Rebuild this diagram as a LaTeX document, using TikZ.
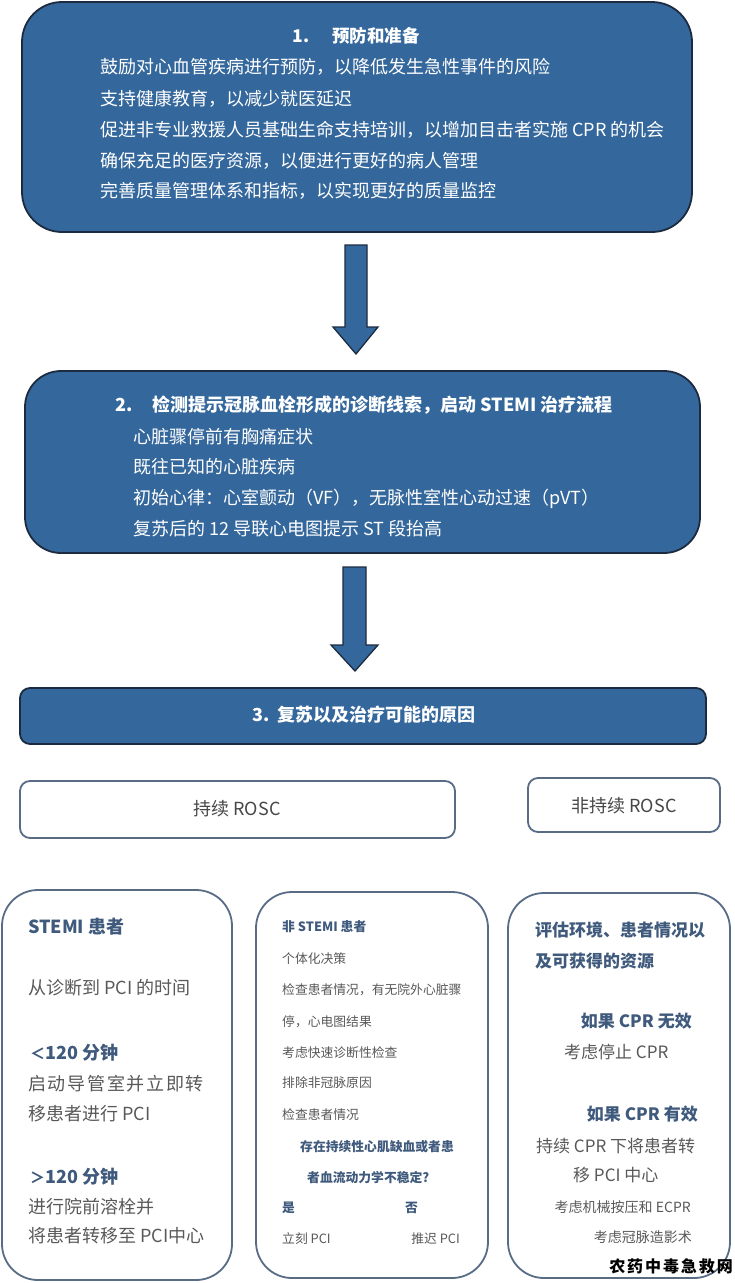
\documentclass[tikz,border=0pt]{standalone}
\usepackage{fontspec}
\setmainfont{Noto Sans CJK SC}
\definecolor{boxblue}{RGB}{52,103,155}
\definecolor{navy}{RGB}{28,43,63}
\definecolor{rimgray}{RGB}{88,108,134}
\definecolor{txtgray}{RGB}{89,89,89}
\definecolor{headblue}{RGB}{63,90,124}
\tikzset{
  bluebox/.style={draw=navy, line width=1.8pt, fill=boxblue},
  whitebox/.style={draw=rimgray, line width=1.8pt, fill=white},
  blockarrow/.style={draw=navy, line width=1.3pt, fill=boxblue, line join=miter},
  tw/.style={inner sep=0pt, text=white, font=\fontsize{18}{22}\selectfont, yshift=-6.4pt},
  tg/.style={inner sep=0pt, text=txtgray, font=\fontsize{18}{22}\selectfont, yshift=-6.4pt},
  tgb/.style={inner sep=0pt, text=headblue, font=\fontsize{18}{22}\selectfont\bfseries, yshift=-6.4pt},
  sg/.style={inner sep=0pt, text=txtgray, font=\fontsize{12.8}{15}\selectfont, yshift=-4.6pt},
  sgb/.style={inner sep=0pt, text=headblue, font=\fontsize{12.8}{15}\selectfont\bfseries, yshift=-4.6pt},
  rg/.style={inner sep=0pt, text=txtgray, font=\fontsize{17}{21}\selectfont, yshift=-6.1pt},
  rgb/.style={inner sep=0pt, text=headblue, font=\fontsize{17}{21}\selectfont\bfseries, yshift=-6.1pt},
  rs/.style={inner sep=0pt, text=txtgray, font=\fontsize{14}{17}\selectfont, yshift=-5pt},
}
\begin{document}
\begin{tikzpicture}[x=1pt,y=-1pt]
\useasboundingbox[fill=white] (0,0) rectangle (735,1283);

% ---- Box 1
\node[bluebox, rounded corners=40pt, minimum width=670pt, minimum height=230pt] (b1) at (357,117) {};
\node[tw, anchor=base, font=\fontsize{17.5}{22}\selectfont\bfseries] (b1t) at (356,36) {1.\hspace{1.3em}预防和准备};
\node[tw, anchor=base west] (b1a) at (100,67) {鼓励对心血管疾病进行预防，以降低发生急性事件的风险};
\node[tw, anchor=base west] (b1b) at (100,99) {支持健康教育，以减少就医延迟};
\node[tw, anchor=base west] (b1c) at (100,130) {促进非专业救援人员基础生命支持培训，以增加目击者实施 CPR 的机会};
\node[tw, anchor=base west] (b1d) at (100,161) {确保充足的医疗资源，以便进行更好的病人管理};
\node[tw, anchor=base west] (b1e) at (100,191) {完善质量管理体系和指标，以实现更好的质量监控};

% ---- Arrow 1
\draw[blockarrow] (345,245) -- (367,245) -- (367,327) -- (378,327) -- (356,354) -- (333,327) -- (345,327) -- cycle;

% ---- Box 2
\node[bluebox, rounded corners=36pt, minimum width=675pt, minimum height=182pt] (b2) at (362.5,462) {};
\node[tw, anchor=base west, font=\fontsize{18}{22}\selectfont\bfseries] (b2t) at (115,405) {2.\hspace{1.1em}检测提示冠脉血栓形成的诊断线索，启动 STEMI 治疗流程};
\node[tw, anchor=base west] (b2a) at (133,437) {心脏骤停前有胸痛症状};
\node[tw, anchor=base west] (b2b) at (133,467) {既往已知的心脏疾病};
\node[tw, anchor=base west] (b2c) at (133,498) {初始心律：心室颤动（VF），无脉性室性心动过速（pVT）};
\node[tw, anchor=base west] (b2d) at (133,529) {复苏后的 12 导联心电图提示 ST 段抬高};

% ---- Arrow 2
\draw[blockarrow] (343,567) -- (366,567) -- (366,645) -- (378,645) -- (355,671) -- (331,645) -- (343,645) -- cycle;

% ---- Box 3
\node[bluebox, rounded corners=10pt, minimum width=686pt, minimum height=56pt] (b3) at (363,716) {};
\node[tw, anchor=base, font=\fontsize{18}{22}\selectfont\bfseries] (b3t) at (364,715) {3.\hspace{0.4em}复苏以及治疗可能的原因};

% ---- ROSC boxes
\node[whitebox, rounded corners=10pt, minimum width=435pt, minimum height=57pt] (ra) at (237.5,809.5) {};
\node[tg, anchor=base, text=black!72] (rat) at (237,809) {持续 ROSC};
\node[whitebox, rounded corners=10pt, minimum width=192pt, minimum height=54pt] (rb) at (624,805) {};
\node[tg, anchor=base, text=black!72] (rbt) at (624,806) {非持续 ROSC};

% ---- Bottom left box
\node[whitebox, rounded corners=36pt, minimum width=230pt, minimum height=390pt] (bl) at (117,1085) {};
\node[tgb, anchor=base west] (bl1) at (28,927) {STEMI 患者};
\node[tg, anchor=base west] (bl2) at (28,988) {从诊断到 PCI 的时间};
\node[tgb, anchor=base west] (bl3) at (30,1053) {\fontsize{15}{18}\selectfont ＜\fontsize{18}{22}\selectfont 120 分钟};
\node[tg, anchor=base west] (bl4) at (28,1084) {\addfontfeature{LetterSpace=9.5}启动导管室并立即转};
\node[tg, anchor=base west] (bl5) at (28,1114) {移患者进行 PCI};
\node[tgb, anchor=base west] (bl6) at (30,1177) {\fontsize{15}{18}\selectfont ＞\fontsize{18}{22}\selectfont 120 分钟};
\node[tg, anchor=base west] (bl7) at (28,1207) {进行院前溶栓并};
\node[tg, anchor=base west] (bl8) at (28,1236) {将患者转移至 PCI中心};

% ---- Bottom middle box
\node[whitebox, rounded corners=36pt, minimum width=232pt, minimum height=386pt] (bm) at (372,1085) {};
\node[sgb, anchor=base west] (bm1) at (282,927) {非 STEMI 患者};
\node[sg, anchor=base west] (bm2) at (282,959) {个体化决策};
\node[sg, anchor=base west] (bm3) at (282,990) {检查患者情况，有无院外心脏骤};
\node[sg, anchor=base west] (bm4) at (282,1022) {停，心电图结果};
\node[sg, anchor=base west] (bm5) at (282,1053) {考虑快速诊断性检查};
\node[sg, anchor=base west] (bm6) at (282,1083) {排除非冠脉原因};
\node[sg, anchor=base west] (bm7) at (282,1115) {检查患者情况};
\node[sgb, anchor=base west] (bm8) at (300,1147) {存在持续性心肌缺血或者患};
\node[sgb, anchor=base west] (bm9) at (307,1178) {者血流动力学不稳定?};
\node[sgb, anchor=base west] (bm10) at (282,1208) {是};
\node[sgb, anchor=base west] (bm11) at (405,1208) {否};
\node[sg, anchor=base west] (bm12) at (282,1239) {立刻 PCI};
\node[sg, anchor=base east] (bm13) at (460,1239) {推迟 PCI};

% ---- Bottom right box
\node[whitebox, rounded corners=36pt, minimum width=222pt, minimum height=385pt] (br) at (619,1085.5) {};
\node[rgb, anchor=base west] (br1) at (535,930) {评估环境、患者情况以};
\node[rgb, anchor=base west] (br2) at (535,961) {及可获得的资源};
\node[rgb, anchor=base east] (br3) at (692,1021) {如果 CPR 无效};
\node[rg, anchor=base west] (br4) at (564,1052) {考虑停止 CPR};
\node[rgb, anchor=base east] (br5) at (698,1114) {如果 CPR 有效};
\node[rg, anchor=base west] (br6) at (536,1146) {持续 CPR 下将患者转};
\node[rg, anchor=base west] (br7) at (573,1175) {移 PCI 中心};
\node[rs, anchor=base east] (br8) at (691,1207) {考虑机械按压和 ECPR};
\node[rs, anchor=base east] (br9) at (692,1237) {考虑冠脉造影术};

% ---- Watermark
\node[inner sep=0pt, anchor=base east, text=black, font=\fontsize{16}{18}\selectfont\bfseries\addfontfeature{LetterSpace=12}, yshift=-5.8pt] (wm) at (733,1267) {农药中毒急救网};
\end{tikzpicture}
\end{document}
